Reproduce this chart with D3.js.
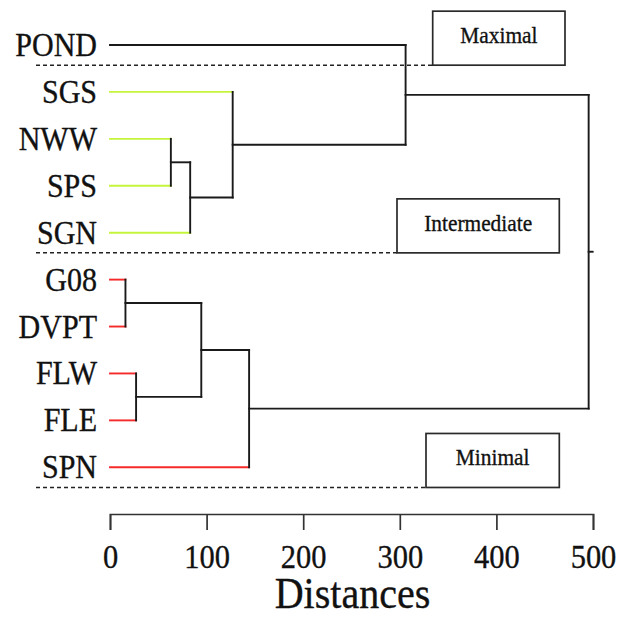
<!DOCTYPE html>
<html>
<head>
<meta charset="utf-8">
<script src="https://cdn.jsdelivr.net/npm/d3@7"></script>
<style>
  html, body { margin: 0; padding: 0; background: #ffffff; }
  svg { display: block; }
  svg text { font-family: "Liberation Serif", "Times New Roman", Times, serif; }
</style>
</head>
<body>
<svg id="chart" width="621" height="617"></svg>
<script>
// ---------- data ----------
const leaves = ["POND", "SGS", "NWW", "SPS", "SGN", "G08", "DVPT", "FLW", "FLE", "SPN"];
const leafGroup = ["Maximal", "Intermediate", "Intermediate", "Intermediate", "Intermediate",
                   "Minimal", "Minimal", "Minimal", "Minimal", "Minimal"];
// agglomeration steps (m1 ... m9)
const mergeA = ["NWW", "m1", "m2", "POND", "G08", "FLW", "m5", "m7", "m4"];
const mergeB = ["SPS", "SGN", "SGS", "m3", "DVPT", "FLE", "m6", "SPN", "m8"];
const mergeHeight = [63, 83, 127, 306, 16, 27, 94.5, 144, 495.5];
const groups = ["Maximal", "Intermediate", "Minimal"];
const groupLastLeaf = ["POND", "SGN", "SPN"];
const groupColors = ["#1a1a1a", "#c4f53a", "#f52a2a"];
const xTicks = [0, 100, 200, 300, 400, 500];
const xTitle = "Distances";

// ---------- layout ----------
const svg = d3.select("#chart");
const x = d3.scaleLinear().domain([0, 500]).range([110, 593]);
const y = d3.scalePoint().domain(leaves).range([45, 467.3]);
const color = d3.scaleOrdinal().domain(groups).range(groupColors);
const FONT = '"Liberation Serif", "Times New Roman", Times, serif';
const SX = 0.91; // horizontal text compression seen in the reference

function addText(g, str, tx, ty, size, anchor) {
  return g.append("text")
    .attr("transform", `translate(${tx},${ty}) scale(${SX},1)`)
    .attr("text-anchor", anchor)
    .style("font-family", FONT)
    .style("font-size", size + "px")
    .attr("fill", "#111")
    .attr("stroke", "#111")
    .attr("stroke-width", 0.35)
    .text(str);
}

// nodes
const nodes = {};
leaves.forEach((l, i) => { nodes[l] = { y: y(l), h: 0, leaf: true, group: leafGroup[i] }; });
mergeA.forEach((a, i) => {
  const b = mergeB[i];
  nodes["m" + (i + 1)] = { y: (nodes[a].y + nodes[b].y) / 2, h: mergeHeight[i], leaf: false, a: a, b: b };
});
const rootName = "m" + mergeA.length;

// ---------- group separators & boxes ----------
const boxG = svg.append("g");
const boxLeft = { Maximal: 432.7, Intermediate: 397, Minimal: 426 };
const boxRight = { Maximal: 565, Intermediate: 559.3, Minimal: 559.3 };
const step = y.step();
groups.forEach((gname, i) => {
  const yy = y(groupLastLeaf[i]) + step * 0.43;
  boxG.append("line")
    .attr("x1", 36).attr("x2", boxLeft[gname])
    .attr("y1", yy).attr("y2", yy)
    .attr("stroke", "#222").attr("stroke-width", 1.5)
    .attr("stroke-dasharray", "4,3");
  boxG.append("rect")
    .attr("x", boxLeft[gname]).attr("y", yy - 54)
    .attr("width", boxRight[gname] - boxLeft[gname]).attr("height", 54)
    .attr("fill", "none").attr("stroke", "#2a2a2a").attr("stroke-width", 1.7);
  addText(boxG, gname, (boxLeft[gname] + boxRight[gname]) / 2, yy - 22, 23.5, "middle");
});

// ---------- dendrogram ----------
const treeG = svg.append("g").attr("fill", "none").attr("stroke-linecap", "square");
Object.keys(nodes).forEach(name => {
  const n = nodes[name];
  if (n.leaf) return;
  const px = x(n.h);
  [n.a, n.b].forEach(c => {
    const cn = nodes[c];
    treeG.append("line")
      .attr("x1", x(cn.h)).attr("x2", px)
      .attr("y1", cn.y).attr("y2", cn.y)
      .attr("stroke", cn.leaf ? color(cn.group) : "#1a1a1a")
      .attr("stroke-width", 1.9);
  });
  treeG.append("line")
    .attr("x1", px).attr("x2", px)
    .attr("y1", nodes[n.a].y).attr("y2", nodes[n.b].y)
    .attr("stroke", "#1a1a1a").attr("stroke-width", 1.9);
});
// root stub
const root = nodes[rootName];
treeG.append("line")
  .attr("x1", x(root.h)).attr("x2", x(root.h) + 4)
  .attr("y1", root.y).attr("y2", root.y)
  .attr("stroke", "#1a1a1a").attr("stroke-width", 1.9);

// leaf labels
const labG = svg.append("g");
leaves.forEach(l => addText(labG, l, 97, y(l) + 11, 33, "end"));

// ---------- axis ----------
const axis = d3.axisBottom(x).tickValues(xTicks).tickSizeInner(16).tickSizeOuter(16).tickFormat(d3.format("d"));
const axG = svg.append("g").attr("transform", "translate(0,514)").call(axis);
axG.attr("font-family", null).attr("font-size", null);
axG.select(".domain").attr("stroke", "#333").attr("stroke-width", 1.7);
axG.selectAll(".tick line").attr("stroke", "#333").attr("stroke-width", 1.7);
axG.selectAll(".tick text").remove();
axG.selectAll(".tick").each(function(d) {
  addText(d3.select(this), String(d), 0, 54, 33.5, "middle");
});

// axis title
addText(svg, xTitle, 352.5, 607.5, 44, "middle");
</script>
</body>
</html>
